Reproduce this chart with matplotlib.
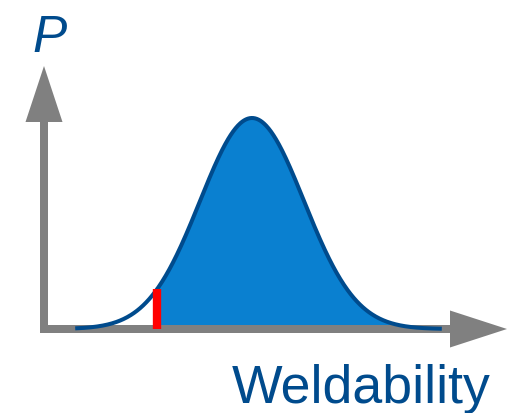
import numpy as np
import matplotlib
matplotlib.use('Agg')
import matplotlib.pyplot as plt
import matplotlib.transforms as mtransforms
from matplotlib.patches import FancyArrow

# Schematic distribution (standardised units)
mean = 0.0
sd = 1.0
threshold = -1.83      # red limit line
x_start = -3.4
x_end = 3.65

axis_label_y = 'P'
axis_label_x = 'Weldability'

line_color = '#004b8d'
fill_color = '#0a80d0'
axis_color = '#808080'

W, H = 514, 414
fig = plt.figure(figsize=(W / 100, H / 100), dpi=100)
ax = fig.add_axes([0, 0, 1, 1])
ax.set_xlim(-252 / 52, (W - 252) / 52)
ax.set_ylim(-84 / 211, 330 / 211)
ax.axis('off')


def bell(x):
    return np.exp(-0.5 * ((x - mean) / sd) ** 2)


# pixel transform for the axis arrows
px = mtransforms.Affine2D().scale(1 / W, -1 / H).translate(0, 1) + fig.transFigure

# axes arrows
ax.add_patch(FancyArrow(44, 334, 0, -267, width=8, head_width=37, head_length=56,
                        length_includes_head=True, color=axis_color, lw=0,
                        transform=px, zorder=2))
ax.add_patch(FancyArrow(40, 330, 467, 0, width=8, head_width=37, head_length=57,
                        length_includes_head=True, color=axis_color, lw=0,
                        transform=px, zorder=2))

# filled area right of the limit
xf = np.linspace(threshold, x_end, 400)
ax.fill_between(xf, 0, bell(xf), color=fill_color, lw=0, zorder=1)

# curve
xc = np.linspace(x_start, x_end, 600)
ax.plot(xc, bell(xc), color=line_color, lw=2.9, solid_capstyle='butt', zorder=3)

# limit line
ax.vlines(threshold, 0, bell(threshold), color='#ff0000', lw=6, capstyle='butt', zorder=4)

# labels
fig.text(32 / W, (H - 52) / H, axis_label_y, fontsize=37, style='italic',
         family='Liberation Sans', color=line_color, va='baseline', ha='left')
fig.text(232 / W, (H - 403) / H, axis_label_x, fontsize=38.6,
         family='Liberation Sans', color=line_color, va='baseline', ha='left')

fig.savefig('out.png', dpi=100)
